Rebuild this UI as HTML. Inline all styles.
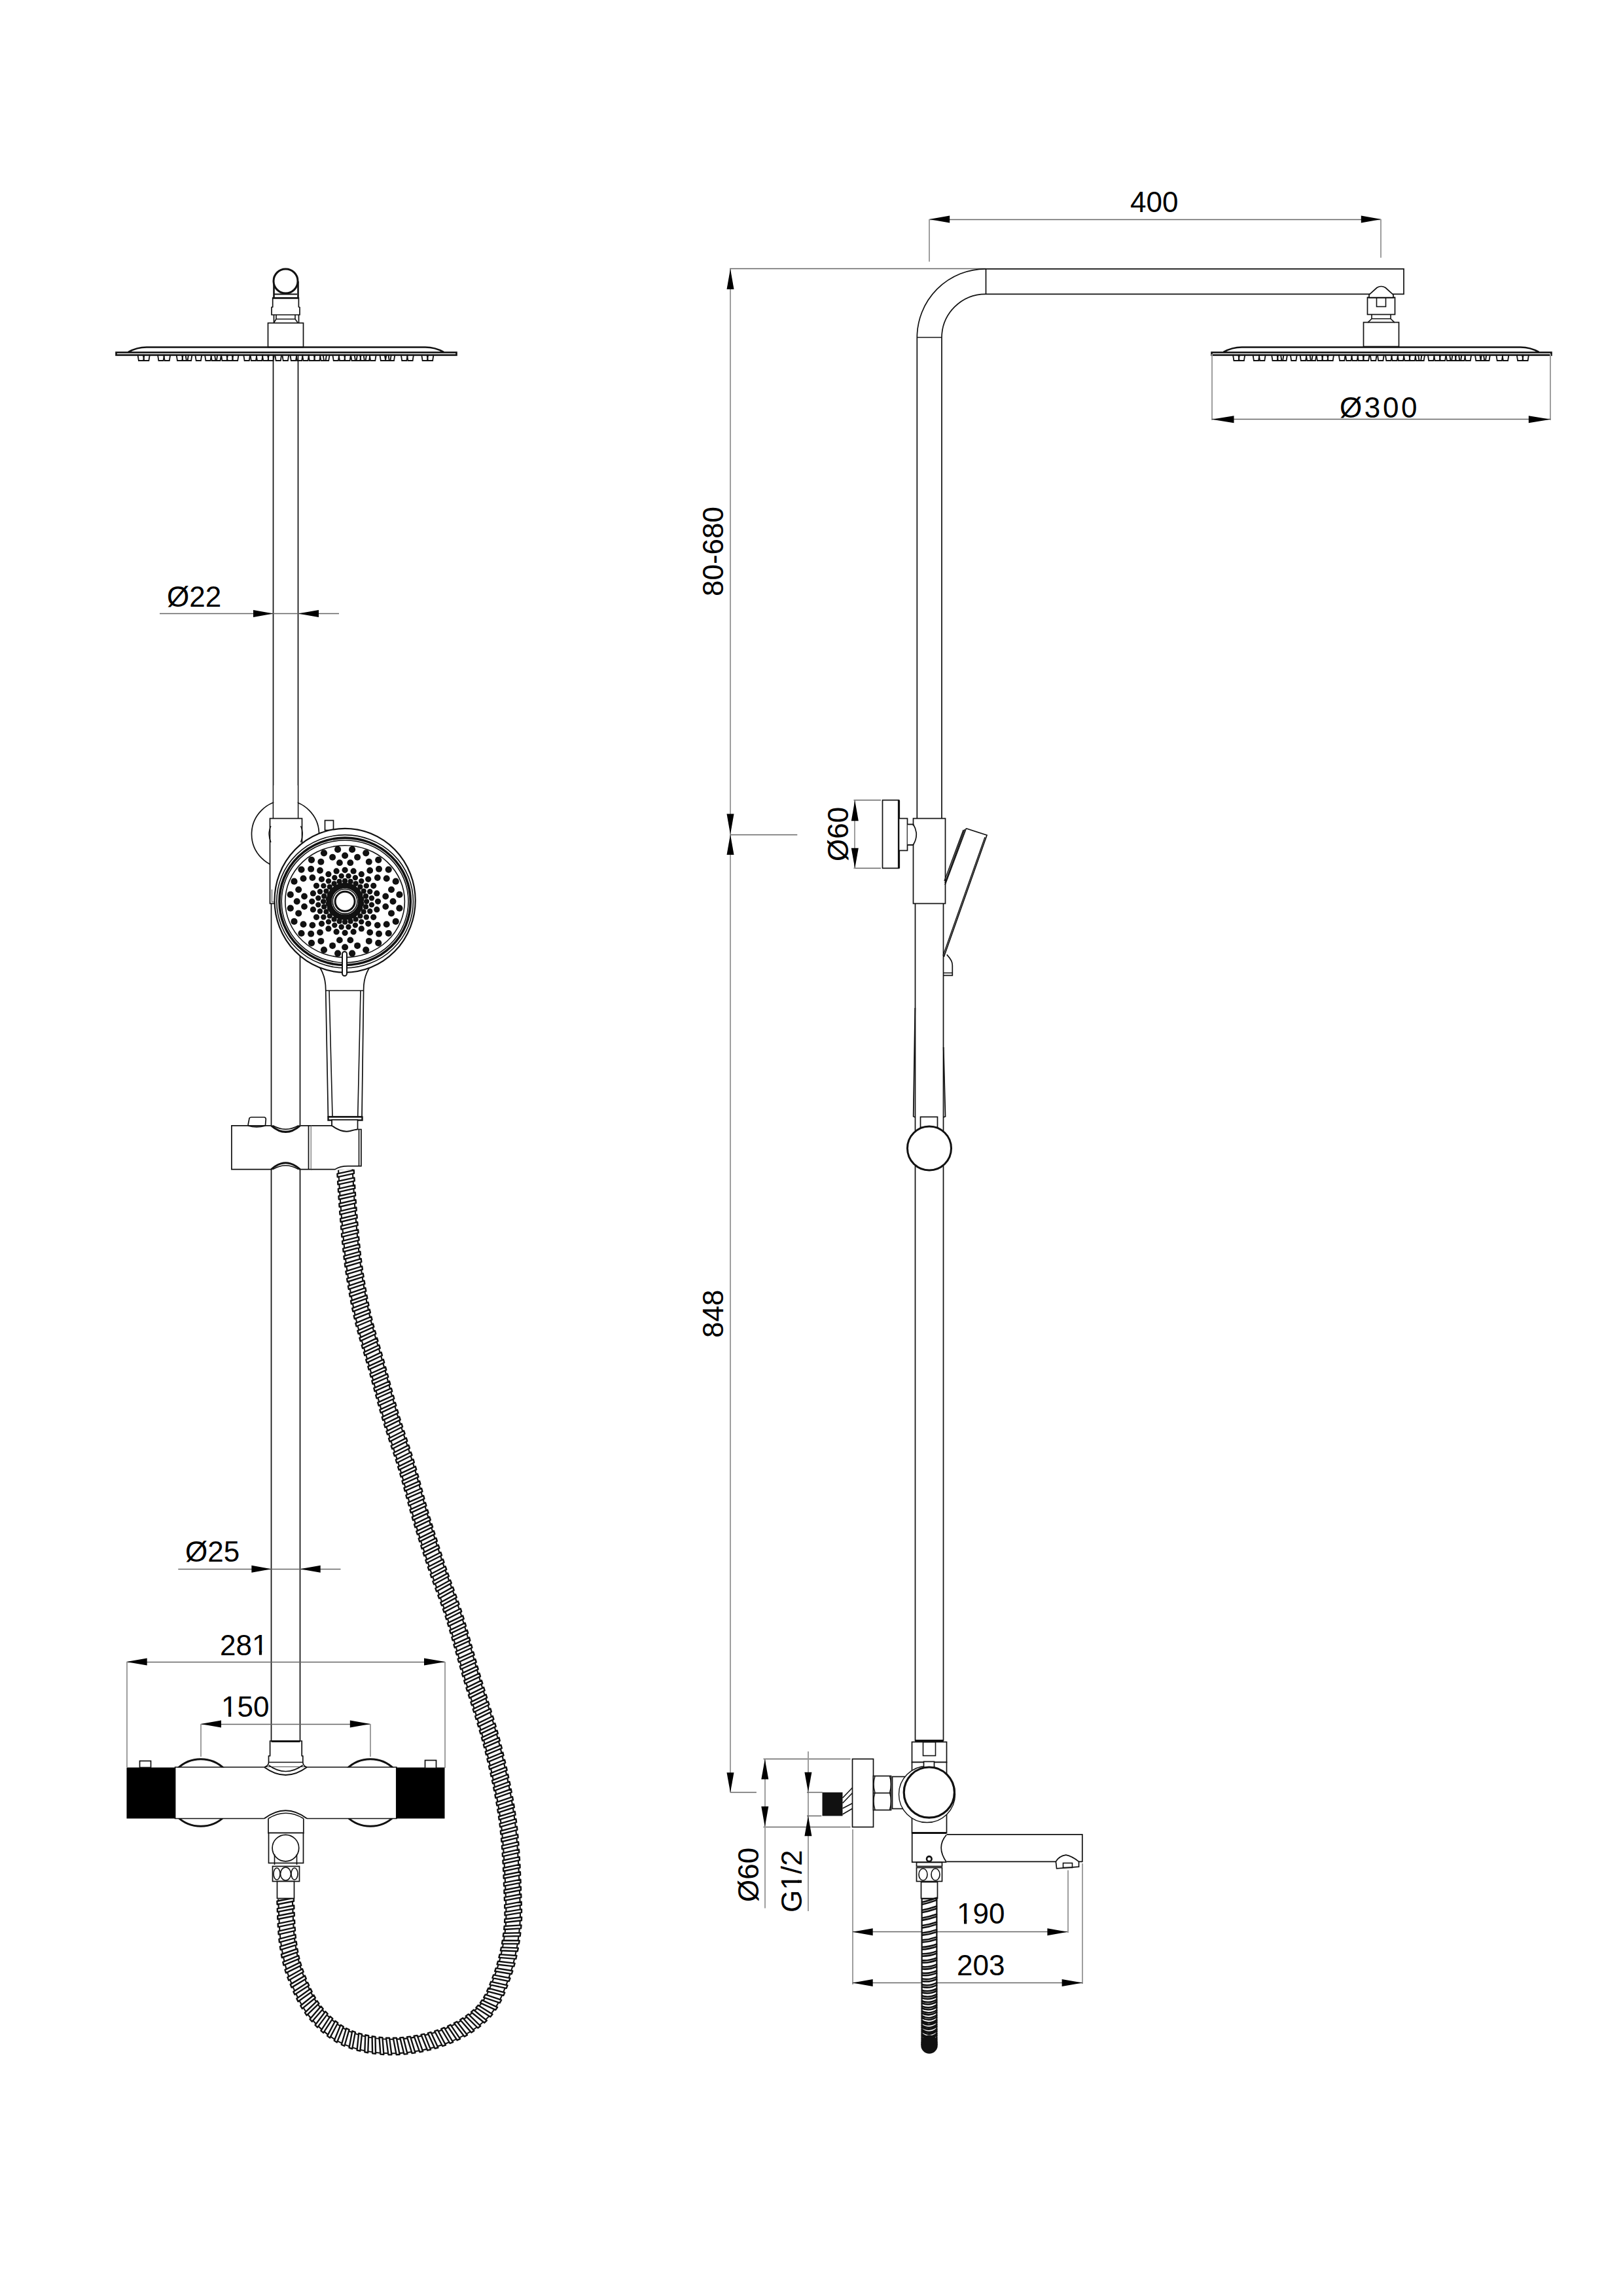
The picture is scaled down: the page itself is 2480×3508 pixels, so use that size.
<!DOCTYPE html>
<html><head><meta charset="utf-8"><style>
html,body{margin:0;padding:0;background:#fff;width:2480px;height:3508px;overflow:hidden}
svg{display:block}
text{font-family:"Liberation Sans",sans-serif}
</style></head><body>
<svg width="2480" height="3508" viewBox="0 0 2480 3508">
<rect x="0" y="0" width="2480" height="3508" fill="#fff"/>
<line x1="417.5" y1="542" x2="417.5" y2="1251" stroke="#111" stroke-width="1.7" fill="none"/>
<line x1="455.5" y1="542" x2="455.5" y2="1251" stroke="#111" stroke-width="1.7" fill="none"/>
<rect x="409.5" y="493.5" width="54" height="37" stroke="#111" stroke-width="1.7" fill="#fff"/>
<rect x="177.5" y="538.5" width="520" height="4" stroke="#111" stroke-width="2.6" fill="#fff"/>
<path d="M 196 538 Q 209 530.5 224 530.5 L 650 530.5 Q 665 530.5 678 538" stroke="#111" stroke-width="2.6" fill="none"/>
<path d="M 210.5 542 L 211.9 551 L 219.1 551 L 220.5 542" stroke="#111" stroke-width="1.8" fill="none"/>
<path d="M 218.8 542 L 220.2 551 L 227.4 551 L 228.8 542" stroke="#111" stroke-width="1.8" fill="none"/>
<path d="M 241 542 L 242.4 551 L 249.6 551 L 251 542" stroke="#111" stroke-width="1.8" fill="none"/>
<path d="M 250.2 542 L 251.6 551 L 258.8 551 L 260.2 542" stroke="#111" stroke-width="1.8" fill="none"/>
<path d="M 269.6 542 L 271 551 L 278.2 551 L 279.6 542" stroke="#111" stroke-width="1.8" fill="none"/>
<path d="M 278 542 L 279.4 551 L 286.6 551 L 288 542" stroke="#111" stroke-width="1.8" fill="none"/>
<path d="M 283.5 542 L 284.9 551 L 292.1 551 L 293.5 542" stroke="#111" stroke-width="1.8" fill="none"/>
<path d="M 298.3 542 L 299.7 551 L 306.9 551 L 308.3 542" stroke="#111" stroke-width="1.8" fill="none"/>
<path d="M 313 542 L 314.4 551 L 321.6 551 L 323 542" stroke="#111" stroke-width="1.8" fill="none"/>
<path d="M 322.3 542 L 323.7 551 L 330.9 551 L 332.3 542" stroke="#111" stroke-width="1.8" fill="none"/>
<path d="M 328 542 L 329.4 551 L 336.6 551 L 338 542" stroke="#111" stroke-width="1.8" fill="none"/>
<path d="M 338 542 L 339.4 551 L 346.6 551 L 348 542" stroke="#111" stroke-width="1.8" fill="none"/>
<path d="M 346.3 542 L 347.7 551 L 354.9 551 L 356.3 542" stroke="#111" stroke-width="1.8" fill="none"/>
<path d="M 354.6 542 L 356 551 L 363.2 551 L 364.6 542" stroke="#111" stroke-width="1.8" fill="none"/>
<path d="M 372.2 542 L 373.6 551 L 380.8 551 L 382.2 542" stroke="#111" stroke-width="1.8" fill="none"/>
<path d="M 382.4 542 L 383.8 551 L 391 551 L 392.4 542" stroke="#111" stroke-width="1.8" fill="none"/>
<path d="M 391.6 542 L 393 551 L 400.2 551 L 401.6 542" stroke="#111" stroke-width="1.8" fill="none"/>
<path d="M 400.8 542 L 402.2 551 L 409.4 551 L 410.8 542" stroke="#111" stroke-width="1.8" fill="none"/>
<path d="M 409 542 L 410.4 551 L 417.6 551 L 419 542" stroke="#111" stroke-width="1.8" fill="none"/>
<path d="M 420.2 542 L 421.6 551 L 428.8 551 L 430.2 542" stroke="#111" stroke-width="1.8" fill="none"/>
<path d="M 431.3 542 L 432.7 551 L 439.9 551 L 441.3 542" stroke="#111" stroke-width="1.8" fill="none"/>
<path d="M 443.4 542 L 444.8 551 L 452 551 L 453.4 542" stroke="#111" stroke-width="1.8" fill="none"/>
<path d="M 452.6 542 L 454 551 L 461.2 551 L 462.6 542" stroke="#111" stroke-width="1.8" fill="none"/>
<path d="M 462 542 L 463.4 551 L 470.6 551 L 472 542" stroke="#111" stroke-width="1.8" fill="none"/>
<path d="M 471.4 542 L 472.8 551 L 480 551 L 481.4 542" stroke="#111" stroke-width="1.8" fill="none"/>
<path d="M 479.7 542 L 481.1 551 L 488.3 551 L 489.7 542" stroke="#111" stroke-width="1.8" fill="none"/>
<path d="M 489 542 L 490.4 551 L 497.6 551 L 499 542" stroke="#111" stroke-width="1.8" fill="none"/>
<path d="M 493.6 542 L 495 551 L 502.2 551 L 503.6 542" stroke="#111" stroke-width="1.8" fill="none"/>
<path d="M 508.3 542 L 509.7 551 L 516.9 551 L 518.3 542" stroke="#111" stroke-width="1.8" fill="none"/>
<path d="M 517.6 542 L 519 551 L 526.2 551 L 527.6 542" stroke="#111" stroke-width="1.8" fill="none"/>
<path d="M 526 542 L 527.4 551 L 534.6 551 L 536 542" stroke="#111" stroke-width="1.8" fill="none"/>
<path d="M 536 542 L 537.4 551 L 544.6 551 L 546 542" stroke="#111" stroke-width="1.8" fill="none"/>
<path d="M 541.6 542 L 543 551 L 550.2 551 L 551.6 542" stroke="#111" stroke-width="1.8" fill="none"/>
<path d="M 550 542 L 551.4 551 L 558.6 551 L 560 542" stroke="#111" stroke-width="1.8" fill="none"/>
<path d="M 555.5 542 L 556.9 551 L 564.1 551 L 565.5 542" stroke="#111" stroke-width="1.8" fill="none"/>
<path d="M 564.7 542 L 566.1 551 L 573.3 551 L 574.7 542" stroke="#111" stroke-width="1.8" fill="none"/>
<path d="M 580.4 542 L 581.8 551 L 589 551 L 590.4 542" stroke="#111" stroke-width="1.8" fill="none"/>
<path d="M 587.8 542 L 589.2 551 L 596.4 551 L 597.8 542" stroke="#111" stroke-width="1.8" fill="none"/>
<path d="M 593.4 542 L 594.8 551 L 602 551 L 603.4 542" stroke="#111" stroke-width="1.8" fill="none"/>
<path d="M 612.8 542 L 614.2 551 L 621.4 551 L 622.8 542" stroke="#111" stroke-width="1.8" fill="none"/>
<path d="M 622 542 L 623.4 551 L 630.6 551 L 632 542" stroke="#111" stroke-width="1.8" fill="none"/>
<path d="M 644.2 542 L 645.6 551 L 652.8 551 L 654.2 542" stroke="#111" stroke-width="1.8" fill="none"/>
<path d="M 652.5 542 L 653.9 551 L 661.1 551 L 662.5 542" stroke="#111" stroke-width="1.8" fill="none"/>
<path d="M 416.7 455 L 416.7 469 L 415 469.5 L 415 481 L 458 481 L 458 469.5 L 456.4 469 L 456.4 455 Z" stroke="#111" stroke-width="1.7" fill="#fff"/>
<line x1="418.5" y1="481" x2="418.5" y2="493.5" stroke="#111" stroke-width="1.7" fill="none"/>
<line x1="456.5" y1="481" x2="456.5" y2="493.5" stroke="#111" stroke-width="1.7" fill="none"/>
<path d="M 422 481 L 422 487.5 L 418.5 493 M 451 481 L 451 487.5 L 455 493 M 422 487.5 L 451 487.5" stroke="#111" stroke-width="1.6" fill="none"/>
<line x1="418.5" y1="430" x2="418.5" y2="455" stroke="#111" stroke-width="2.6" fill="none"/>
<line x1="455.5" y1="430" x2="455.5" y2="455" stroke="#111" stroke-width="2.6" fill="none"/>
<line x1="419" y1="449.5" x2="454" y2="449.5" stroke="#111" stroke-width="1.8" fill="none"/>
<line x1="416.7" y1="455.5" x2="456.4" y2="455.5" stroke="#111" stroke-width="2.6" fill="none"/>
<circle cx="436.5" cy="429.5" r="18.5" stroke="#111" stroke-width="3" fill="#fff"/>
<line x1="244" y1="937.5" x2="518" y2="937.5" stroke="#666" stroke-width="1.5" fill="none"/>
<polygon points="417.5,937.5 387,943 387,932" fill="#000"/>
<polygon points="455.5,937.5 487,932 487,943" fill="#000"/>
<g><text x="255" y="926.5" font-size="44" font-family="Liberation Sans, sans-serif" letter-spacing="0" fill="#000">&#216;22</text></g>
<circle cx="436" cy="1274.5" r="51.5" stroke="#111" stroke-width="1.7" fill="none"/>
<rect x="418.4" y="1200" width="36.2" height="51" fill="#fff"/>
<line x1="414.5" y1="1380" x2="414.5" y2="2660" stroke="#111" stroke-width="1.7" fill="none"/>
<line x1="458.5" y1="1380" x2="458.5" y2="2660" stroke="#111" stroke-width="1.7" fill="none"/>
<rect x="412.5" y="1250.5" width="49" height="130" stroke="#111" stroke-width="1.7" fill="#fff"/>
<path d="M 414 1262 Q 408 1274 414 1287 M 459.5 1262 Q 465 1274 459.5 1287" stroke="#111" stroke-width="1.4" fill="none"/>
<path d="M 415.5 1359 L 415.5 1378 L 420 1378" stroke="#555" stroke-width="1.2" fill="none"/>
<rect x="496.5" y="1253.5" width="13" height="15" stroke="#111" stroke-width="1.7" fill="#fff"/>
<path d="M 478 1466 C 492 1478 497.7 1495 497.7 1512 L 501.4 1706 L 553 1706 L 555.6 1512 C 555.6 1495 561 1478 576 1466" stroke="#111" stroke-width="1.7" fill="#fff"/>
<path d="M 503 1513 L 508 1706 M 551 1513 L 546.7 1706" stroke="#111" stroke-width="1.6" fill="none"/>
<line x1="497.7" y1="1513.5" x2="555.6" y2="1513.5" stroke="#111" stroke-width="1.7" fill="none"/>
<rect x="501.5" y="1706.5" width="52" height="5" stroke="#111" stroke-width="2.4" fill="#fff"/>
<rect x="507.5" y="1711.5" width="38" height="9" stroke="#111" stroke-width="1.7" fill="#fff"/>
<ellipse cx="527.1" cy="1375.8" rx="107.6" ry="110" stroke="#111" stroke-width="2.2" fill="#fff"/>
<ellipse cx="527.1" cy="1377.3" rx="104.3" ry="101.7" stroke="#111" stroke-width="1.6" fill="none"/>
<ellipse cx="527.1" cy="1377.3" rx="100.2" ry="97.2" stroke="#111" stroke-width="3.6" fill="none"/>
<ellipse cx="527.1" cy="1377.3" rx="96.9" ry="93.5" stroke="#111" stroke-width="1.6" fill="none"/>
<ellipse cx="527.1" cy="1377.3" rx="91.3" ry="85.5" stroke="#111" stroke-width="1.6" fill="none"/>
<circle cx="527.1" cy="1377.3" r="24.3" stroke="#111" stroke-width="8.5" fill="none"/>
<circle cx="527.1" cy="1353" r="4.2" fill="#111"/>
<circle cx="534.3" cy="1354" r="4.2" fill="#111"/>
<circle cx="540.9" cy="1356.9" r="4.2" fill="#111"/>
<circle cx="546.4" cy="1361.4" r="4.2" fill="#111"/>
<circle cx="550.3" cy="1367.2" r="4.2" fill="#111"/>
<circle cx="552.3" cy="1373.8" r="4.2" fill="#111"/>
<circle cx="552.3" cy="1380.8" r="4.2" fill="#111"/>
<circle cx="550.3" cy="1387.4" r="4.2" fill="#111"/>
<circle cx="546.4" cy="1393.2" r="4.2" fill="#111"/>
<circle cx="540.9" cy="1397.7" r="4.2" fill="#111"/>
<circle cx="534.3" cy="1400.6" r="4.2" fill="#111"/>
<circle cx="527.1" cy="1401.6" r="4.2" fill="#111"/>
<circle cx="519.9" cy="1400.6" r="4.2" fill="#111"/>
<circle cx="513.3" cy="1397.7" r="4.2" fill="#111"/>
<circle cx="507.8" cy="1393.2" r="4.2" fill="#111"/>
<circle cx="503.9" cy="1387.4" r="4.2" fill="#111"/>
<circle cx="501.9" cy="1380.8" r="4.2" fill="#111"/>
<circle cx="501.9" cy="1373.8" r="4.2" fill="#111"/>
<circle cx="503.9" cy="1367.2" r="4.2" fill="#111"/>
<circle cx="507.8" cy="1361.4" r="4.2" fill="#111"/>
<circle cx="513.3" cy="1356.9" r="4.2" fill="#111"/>
<circle cx="519.9" cy="1354" r="4.2" fill="#111"/>
<circle cx="527.1" cy="1377.3" r="18.8" stroke="#111" stroke-width="1.6" fill="#fff"/>
<circle cx="527.1" cy="1377.3" r="15" stroke="#111" stroke-width="3" fill="none"/>
<circle cx="527.1" cy="1345.9" r="4.1" fill="#111"/>
<circle cx="535.6" cy="1346.9" r="4.1" fill="#111"/>
<circle cx="543.6" cy="1350.1" r="4.1" fill="#111"/>
<circle cx="550.4" cy="1355.1" r="4.1" fill="#111"/>
<circle cx="555.7" cy="1361.6" r="4.1" fill="#111"/>
<circle cx="559" cy="1369.2" r="4.1" fill="#111"/>
<circle cx="560.1" cy="1377.3" r="4.1" fill="#111"/>
<circle cx="559" cy="1385.4" r="4.1" fill="#111"/>
<circle cx="555.7" cy="1393" r="4.1" fill="#111"/>
<circle cx="550.4" cy="1399.5" r="4.1" fill="#111"/>
<circle cx="543.6" cy="1404.5" r="4.1" fill="#111"/>
<circle cx="535.6" cy="1407.7" r="4.1" fill="#111"/>
<circle cx="527.1" cy="1408.7" r="4.1" fill="#111"/>
<circle cx="518.6" cy="1407.7" r="4.1" fill="#111"/>
<circle cx="510.6" cy="1404.5" r="4.1" fill="#111"/>
<circle cx="503.8" cy="1399.5" r="4.1" fill="#111"/>
<circle cx="498.5" cy="1393" r="4.1" fill="#111"/>
<circle cx="495.2" cy="1385.4" r="4.1" fill="#111"/>
<circle cx="494.1" cy="1377.3" r="4.1" fill="#111"/>
<circle cx="495.2" cy="1369.2" r="4.1" fill="#111"/>
<circle cx="498.5" cy="1361.6" r="4.1" fill="#111"/>
<circle cx="503.8" cy="1355.1" r="4.1" fill="#111"/>
<circle cx="510.6" cy="1350.1" r="4.1" fill="#111"/>
<circle cx="518.6" cy="1346.9" r="4.1" fill="#111"/>
<circle cx="532.5" cy="1338.4" r="4.2" fill="#111"/>
<circle cx="542.9" cy="1341" r="4.2" fill="#111"/>
<circle cx="552.2" cy="1346.2" r="4.2" fill="#111"/>
<circle cx="559.8" cy="1353.4" r="4.2" fill="#111"/>
<circle cx="565.2" cy="1362.3" r="4.2" fill="#111"/>
<circle cx="567.9" cy="1372.2" r="4.2" fill="#111"/>
<circle cx="567.9" cy="1382.4" r="4.2" fill="#111"/>
<circle cx="565.2" cy="1392.3" r="4.2" fill="#111"/>
<circle cx="559.8" cy="1401.2" r="4.2" fill="#111"/>
<circle cx="552.2" cy="1408.4" r="4.2" fill="#111"/>
<circle cx="542.9" cy="1413.6" r="4.2" fill="#111"/>
<circle cx="532.5" cy="1416.2" r="4.2" fill="#111"/>
<circle cx="521.7" cy="1416.2" r="4.2" fill="#111"/>
<circle cx="511.3" cy="1413.6" r="4.2" fill="#111"/>
<circle cx="502" cy="1408.4" r="4.2" fill="#111"/>
<circle cx="494.4" cy="1401.2" r="4.2" fill="#111"/>
<circle cx="489" cy="1392.3" r="4.2" fill="#111"/>
<circle cx="486.3" cy="1382.4" r="4.2" fill="#111"/>
<circle cx="486.3" cy="1372.2" r="4.2" fill="#111"/>
<circle cx="489" cy="1362.3" r="4.2" fill="#111"/>
<circle cx="494.4" cy="1353.4" r="4.2" fill="#111"/>
<circle cx="502" cy="1346.2" r="4.2" fill="#111"/>
<circle cx="511.3" cy="1341" r="4.2" fill="#111"/>
<circle cx="521.7" cy="1338.4" r="4.2" fill="#111"/>
<circle cx="527.1" cy="1329.3" r="4.6" fill="#111"/>
<circle cx="540.1" cy="1330.9" r="4.6" fill="#111"/>
<circle cx="552.3" cy="1335.7" r="4.6" fill="#111"/>
<circle cx="562.7" cy="1343.3" r="4.6" fill="#111"/>
<circle cx="570.7" cy="1353.3" r="4.6" fill="#111"/>
<circle cx="575.8" cy="1364.9" r="4.6" fill="#111"/>
<circle cx="577.5" cy="1377.3" r="4.6" fill="#111"/>
<circle cx="575.8" cy="1389.7" r="4.6" fill="#111"/>
<circle cx="570.7" cy="1401.3" r="4.6" fill="#111"/>
<circle cx="562.7" cy="1411.3" r="4.6" fill="#111"/>
<circle cx="552.3" cy="1418.9" r="4.6" fill="#111"/>
<circle cx="540.1" cy="1423.7" r="4.6" fill="#111"/>
<circle cx="527.1" cy="1425.3" r="4.6" fill="#111"/>
<circle cx="514.1" cy="1423.7" r="4.6" fill="#111"/>
<circle cx="501.9" cy="1418.9" r="4.6" fill="#111"/>
<circle cx="491.5" cy="1411.3" r="4.6" fill="#111"/>
<circle cx="483.5" cy="1401.3" r="4.6" fill="#111"/>
<circle cx="478.4" cy="1389.7" r="4.6" fill="#111"/>
<circle cx="476.7" cy="1377.3" r="4.6" fill="#111"/>
<circle cx="478.4" cy="1364.9" r="4.6" fill="#111"/>
<circle cx="483.5" cy="1353.3" r="4.6" fill="#111"/>
<circle cx="491.5" cy="1343.3" r="4.6" fill="#111"/>
<circle cx="501.9" cy="1335.7" r="4.6" fill="#111"/>
<circle cx="514.1" cy="1330.9" r="4.6" fill="#111"/>
<circle cx="535.3" cy="1318.2" r="4.9" fill="#111"/>
<circle cx="565.2" cy="1330" r="4.9" fill="#111"/>
<circle cx="576.8" cy="1341" r="4.9" fill="#111"/>
<circle cx="589.2" cy="1369.5" r="4.9" fill="#111"/>
<circle cx="589.2" cy="1385.1" r="4.9" fill="#111"/>
<circle cx="576.8" cy="1413.6" r="4.9" fill="#111"/>
<circle cx="565.2" cy="1424.6" r="4.9" fill="#111"/>
<circle cx="535.3" cy="1436.4" r="4.9" fill="#111"/>
<circle cx="518.9" cy="1436.4" r="4.9" fill="#111"/>
<circle cx="489" cy="1424.6" r="4.9" fill="#111"/>
<circle cx="477.4" cy="1413.6" r="4.9" fill="#111"/>
<circle cx="465" cy="1385.1" r="4.9" fill="#111"/>
<circle cx="465" cy="1369.5" r="4.9" fill="#111"/>
<circle cx="477.4" cy="1341" r="4.9" fill="#111"/>
<circle cx="489" cy="1330" r="4.9" fill="#111"/>
<circle cx="518.9" cy="1318.2" r="4.9" fill="#111"/>
<circle cx="527.1" cy="1307.3" r="5" fill="#111"/>
<circle cx="546.1" cy="1309.7" r="5" fill="#111"/>
<circle cx="563.8" cy="1316.7" r="5" fill="#111"/>
<circle cx="579" cy="1327.8" r="5" fill="#111"/>
<circle cx="590.7" cy="1342.3" r="5" fill="#111"/>
<circle cx="598" cy="1359.2" r="5" fill="#111"/>
<circle cx="600.5" cy="1377.3" r="5" fill="#111"/>
<circle cx="598" cy="1395.4" r="5" fill="#111"/>
<circle cx="590.7" cy="1412.3" r="5" fill="#111"/>
<circle cx="579" cy="1426.8" r="5" fill="#111"/>
<circle cx="563.8" cy="1437.9" r="5" fill="#111"/>
<circle cx="546.1" cy="1444.9" r="5" fill="#111"/>
<circle cx="527.1" cy="1447.3" r="5" fill="#111"/>
<circle cx="508.1" cy="1444.9" r="5" fill="#111"/>
<circle cx="490.4" cy="1437.9" r="5" fill="#111"/>
<circle cx="475.2" cy="1426.8" r="5" fill="#111"/>
<circle cx="463.5" cy="1412.3" r="5" fill="#111"/>
<circle cx="456.2" cy="1395.4" r="5" fill="#111"/>
<circle cx="453.7" cy="1377.3" r="5" fill="#111"/>
<circle cx="456.2" cy="1359.2" r="5" fill="#111"/>
<circle cx="463.5" cy="1342.3" r="5" fill="#111"/>
<circle cx="475.2" cy="1327.8" r="5" fill="#111"/>
<circle cx="490.4" cy="1316.7" r="5" fill="#111"/>
<circle cx="508.1" cy="1309.7" r="5" fill="#111"/>
<circle cx="538.1" cy="1297.9" r="5.1" fill="#111"/>
<circle cx="559.2" cy="1303.3" r="5.1" fill="#111"/>
<circle cx="578.2" cy="1313.8" r="5.1" fill="#111"/>
<circle cx="593.7" cy="1328.6" r="5.1" fill="#111"/>
<circle cx="604.7" cy="1346.7" r="5.1" fill="#111"/>
<circle cx="610.4" cy="1366.9" r="5.1" fill="#111"/>
<circle cx="610.4" cy="1387.7" r="5.1" fill="#111"/>
<circle cx="604.7" cy="1407.9" r="5.1" fill="#111"/>
<circle cx="593.7" cy="1426" r="5.1" fill="#111"/>
<circle cx="578.2" cy="1440.8" r="5.1" fill="#111"/>
<circle cx="559.2" cy="1451.3" r="5.1" fill="#111"/>
<circle cx="538.1" cy="1456.7" r="5.1" fill="#111"/>
<circle cx="516.1" cy="1456.7" r="5.1" fill="#111"/>
<circle cx="495" cy="1451.3" r="5.1" fill="#111"/>
<circle cx="476" cy="1440.8" r="5.1" fill="#111"/>
<circle cx="460.5" cy="1426" r="5.1" fill="#111"/>
<circle cx="449.5" cy="1407.9" r="5.1" fill="#111"/>
<circle cx="443.8" cy="1387.7" r="5.1" fill="#111"/>
<circle cx="443.8" cy="1366.9" r="5.1" fill="#111"/>
<circle cx="449.5" cy="1346.7" r="5.1" fill="#111"/>
<circle cx="460.5" cy="1328.6" r="5.1" fill="#111"/>
<circle cx="476" cy="1313.8" r="5.1" fill="#111"/>
<circle cx="495" cy="1303.3" r="5.1" fill="#111"/>
<circle cx="516.1" cy="1297.9" r="5.1" fill="#111"/>
<rect x="523" y="1454" width="7" height="37" rx="3.5" stroke="#111" stroke-width="2" fill="#fff"/>
<rect x="353.5" y="1719.5" width="122" height="67" fill="#fff" stroke="none"/>
<path d="M 414.5 1719.8 L 353.9 1719.8 L 353.9 1786.6 L 414.5 1786.6 M 458.5 1786.6 L 475.6 1786.6 L 475.6 1719.8 L 458.5 1719.8" stroke="#111" stroke-width="1.7" fill="none"/>
<line x1="471.5" y1="1719.8" x2="471.5" y2="1786.6" stroke="#111" stroke-width="1.7" fill="none"/>
<path d="M 414.5 1719.8 Q 436.5 1739 458.5 1719.8" stroke="#111" stroke-width="3" fill="none"/>
<path d="M 417 1719.8 Q 436.5 1731 456 1719.8" stroke="#111" stroke-width="1.6" fill="none"/>
<path d="M 414.5 1786.6 Q 436.5 1767 458.5 1786.6" stroke="#111" stroke-width="3" fill="none"/>
<path d="M 417 1786.6 Q 436.5 1775 456 1786.6" stroke="#111" stroke-width="1.6" fill="none"/>
<rect x="475.5" y="1719.5" width="76" height="67" fill="#fff" stroke="none"/>
<path d="M 475.6 1719.8 L 507 1719.8 M 546.5 1725.5 L 551.9 1725.5 L 551.9 1781.7 L 548.8 1781.7 M 475.6 1786.6 L 512 1786.6 Q 520 1781 535 1781.7 L 548.8 1781.7" stroke="#111" stroke-width="1.7" fill="none"/>
<line x1="548.5" y1="1725.5" x2="548.5" y2="1781.7" stroke="#111" stroke-width="1.6"/>
<rect x="507.5" y="1710.5" width="39" height="12" fill="#fff" stroke="none"/>
<path d="M 507 1721 L 507 1710.8 L 546.5 1710.8 L 546.5 1725.5" stroke="#111" stroke-width="1.7" fill="none"/>
<path d="M 507 1719.8 Q 522 1731 535 1728 Q 542 1726 546.5 1725.5" stroke="#111" stroke-width="2" fill="none"/>
<path d="M 379 1719 L 381 1708.5 Q 382 1707 384 1707 L 404 1707 Q 406.3 1707.5 406.3 1710 L 405.5 1719" stroke="#111" stroke-width="1.7" fill="#fff"/>
<path d="M 379 1719.8 Q 392 1724 405.5 1719.8" stroke="#111" stroke-width="1.8" fill="none"/>
<path d="M 527.8 1787 C 528.6 1798.7 530.4 1832.5 532.5 1857 C 534.6 1881.5 536.6 1908.3 540.2 1934 C 543.8 1959.7 548.1 1985.3 554 2011 C 559.9 2036.7 568.4 2062.3 575.6 2088 C 582.8 2113.7 589.3 2139.3 597 2165 C 604.7 2190.7 614.1 2216.3 621.8 2242 C 629.5 2267.7 635.7 2293.3 643.4 2319 C 651.1 2344.7 659.5 2370.8 668 2396 C 676.5 2421.2 685.5 2442.5 694.2 2470 C 703 2497.5 710.6 2527.3 720.5 2561 C 730.4 2594.7 744.5 2635 753.8 2672 C 763 2709 771.1 2746 776 2783 C 780.9 2820 782.4 2865.5 783.4 2894 C 784.4 2922.5 784.9 2933.3 782.3 2954 C 779.6 2974.7 774.9 2997.9 767.5 3018 C 760.1 3038.1 752.8 3059.1 738 3074.7 C 723.2 3090.3 701.4 3103.1 678.8 3111.7 C 656.2 3120.3 627 3126.1 602.4 3126.5 C 577.8 3126.9 551.1 3122.6 531 3114 C 510.9 3105.4 494.8 3090.7 481.6 3074.7 C 468.4 3058.7 459 3036.1 452 3018 C 445 2999.9 442.4 2985.5 439.7 2966 C 437 2946.5 436.6 2911.8 436 2901" stroke="#111" stroke-width="23.6" fill="none"/>
<path d="M 527.8 1787 C 528.6 1798.7 530.4 1832.5 532.5 1857 C 534.6 1881.5 536.6 1908.3 540.2 1934 C 543.8 1959.7 548.1 1985.3 554 2011 C 559.9 2036.7 568.4 2062.3 575.6 2088 C 582.8 2113.7 589.3 2139.3 597 2165 C 604.7 2190.7 614.1 2216.3 621.8 2242 C 629.5 2267.7 635.7 2293.3 643.4 2319 C 651.1 2344.7 659.5 2370.8 668 2396 C 676.5 2421.2 685.5 2442.5 694.2 2470 C 703 2497.5 710.6 2527.3 720.5 2561 C 730.4 2594.7 744.5 2635 753.8 2672 C 763 2709 771.1 2746 776 2783 C 780.9 2820 782.4 2865.5 783.4 2894 C 784.4 2922.5 784.9 2933.3 782.3 2954 C 779.6 2974.7 774.9 2997.9 767.5 3018 C 760.1 3038.1 752.8 3059.1 738 3074.7 C 723.2 3090.3 701.4 3103.1 678.8 3111.7 C 656.2 3120.3 627 3126.1 602.4 3126.5 C 577.8 3126.9 551.1 3122.6 531 3114 C 510.9 3105.4 494.8 3090.7 481.6 3074.7 C 468.4 3058.7 459 3036.1 452 3018 C 445 2999.9 442.4 2985.5 439.7 2966 C 437 2946.5 436.6 2911.8 436 2901" stroke="#fff" stroke-width="19.4" fill="none"/>
<path d="M 515.4 1793.4 L 515.7 1798.4 L 541 1792.8 L 540.7 1787.8 Z M 516.1 1804.9 L 516.4 1809.9 L 541.7 1804.4 L 541.4 1799.4 Z M 516.8 1816.3 L 517.1 1821.3 L 542.4 1815.7 L 542.1 1810.7 Z M 517.5 1827.5 L 517.8 1832.5 L 543.1 1826.8 L 542.8 1821.8 Z M 518.3 1839 L 518.6 1844 L 543.9 1838.2 L 543.5 1833.2 Z M 519.1 1850.7 L 519.5 1855.7 L 544.7 1849.7 L 544.4 1844.7 Z M 520.1 1862 L 520.5 1867 L 545.7 1860.9 L 545.3 1855.9 Z M 521 1873.3 L 521.4 1878.3 L 546.6 1872.1 L 546.2 1867.2 Z M 522 1884.8 L 522.4 1889.8 L 547.6 1883.6 L 547.2 1878.6 Z M 523 1896.2 L 523.5 1901.1 L 548.6 1894.8 L 548.1 1889.8 Z M 524.2 1907.6 L 524.7 1912.6 L 549.7 1906 L 549.2 1901 Z M 525.4 1919.1 L 526 1924 L 550.9 1917.1 L 550.4 1912.2 Z M 526.8 1930.5 L 527.5 1935.5 L 552.3 1928.2 L 551.7 1923.2 Z M 528.4 1942.3 L 529.2 1947.2 L 553.9 1939.6 L 553.2 1934.6 Z M 530.1 1953.6 L 530.9 1958.5 L 555.6 1950.6 L 554.8 1945.7 Z M 531.9 1964.9 L 532.8 1969.8 L 557.4 1961.7 L 556.5 1956.7 Z M 533.9 1976.2 L 534.8 1981.1 L 559.3 1972.7 L 558.4 1967.7 Z M 536 1987.5 L 536.9 1992.4 L 561.3 1983.7 L 560.4 1978.8 Z M 538.2 1998.9 L 539.3 2003.8 L 563.5 1994.6 L 562.5 1989.7 Z M 540.7 2010.2 L 541.8 2015.1 L 565.9 2005.6 L 564.8 2000.7 Z M 543.4 2021.7 L 544.6 2026.5 L 568.5 2016.5 L 567.3 2011.6 Z M 546.4 2033.1 L 547.7 2037.9 L 571.3 2027.4 L 570 2022.6 Z M 549.4 2044.1 L 550.8 2048.9 L 574.3 2038 L 572.9 2033.2 Z M 552.7 2055.3 L 554.1 2060.1 L 577.5 2049.1 L 576.1 2044.3 Z M 555.9 2066.1 L 557.3 2070.9 L 580.7 2059.8 L 579.3 2055 Z M 559.2 2077.3 L 560.6 2082.1 L 584 2071 L 582.6 2066.2 Z M 562.3 2087.9 L 563.6 2092.7 L 587.2 2081.9 L 585.8 2077.1 Z M 565.4 2099 L 566.7 2103.8 L 590.3 2093.2 L 589 2088.4 Z M 568.3 2109.7 L 569.6 2114.6 L 593.3 2104 L 592 2099.2 Z M 571.3 2120.9 L 572.6 2125.7 L 596.3 2115.2 L 595 2110.3 Z M 574.2 2131.7 L 575.6 2136.5 L 599.2 2125.9 L 597.9 2121.1 Z M 577.3 2142.9 L 578.7 2147.7 L 602.3 2137 L 600.9 2132.2 Z M 580.4 2153.8 L 581.8 2158.6 L 605.3 2147.7 L 603.9 2142.9 Z M 583.7 2165.1 L 585.1 2169.9 L 608.5 2158.8 L 607.1 2154 Z M 587 2176 L 588.5 2180.8 L 611.7 2169.4 L 610.2 2164.6 Z M 590.5 2186.9 L 592 2191.7 L 615.1 2180 L 613.6 2175.3 Z M 594 2197.8 L 595.6 2202.6 L 618.6 2190.7 L 617.1 2186 Z M 597.7 2209 L 599.3 2213.7 L 622.3 2201.9 L 620.8 2197.1 Z M 601.3 2219.7 L 602.9 2224.5 L 625.9 2212.7 L 624.4 2207.9 Z M 604.8 2230.4 L 606.3 2235.2 L 629.5 2223.5 L 627.9 2218.8 Z M 608.1 2241.1 L 609.6 2245.8 L 632.9 2234.5 L 631.4 2229.7 Z M 611.3 2251.7 L 612.7 2256.5 L 636.2 2245.4 L 634.8 2240.6 Z M 614.5 2262.7 L 615.8 2267.5 L 639.4 2256.7 L 638 2251.9 Z M 617.4 2273.4 L 618.7 2278.2 L 642.4 2267.6 L 641.1 2262.8 Z M 620.4 2284.5 L 621.7 2289.3 L 645.4 2278.8 L 644.1 2274 Z M 623.5 2295.7 L 624.8 2300.5 L 648.4 2289.9 L 647.1 2285.1 Z M 626.5 2306.6 L 627.8 2311.4 L 651.4 2300.6 L 650 2295.8 Z M 629.7 2317.9 L 631.1 2322.7 L 654.6 2311.6 L 653.2 2306.8 Z M 633 2328.8 L 634.4 2333.6 L 657.8 2322.3 L 656.3 2317.5 Z M 636.3 2339.7 L 637.8 2344.5 L 661.1 2333.1 L 659.6 2328.3 Z M 639.7 2350.6 L 641.2 2355.4 L 664.4 2343.9 L 662.9 2339.1 Z M 643.2 2361.5 L 644.7 2366.3 L 667.9 2354.6 L 666.4 2349.9 Z M 646.7 2372.4 L 648.2 2377.1 L 671.4 2365.4 L 669.8 2360.6 Z M 650.4 2383.6 L 651.9 2388.3 L 675 2376.5 L 673.4 2371.7 Z M 653.9 2394.3 L 655.5 2399 L 678.5 2387.1 L 676.9 2382.4 Z M 657.7 2405.3 L 659.3 2410 L 682.2 2397.9 L 680.5 2393.2 Z M 661.4 2416 L 663.1 2420.7 L 685.9 2408.3 L 684.2 2403.6 Z M 665.4 2426.8 L 667.1 2431.5 L 689.8 2418.9 L 688 2414.2 Z M 669.3 2437.5 L 671.1 2442.2 L 693.7 2429.6 L 692 2424.9 Z M 673.3 2448.3 L 675 2453 L 697.7 2440.6 L 696 2435.9 Z M 676.9 2458.6 L 678.6 2463.4 L 701.5 2451.2 L 699.8 2446.5 Z M 680.6 2469.4 L 682.1 2474.2 L 705.2 2462.4 L 703.7 2457.7 Z M 683.9 2479.9 L 685.4 2484.7 L 708.7 2473.4 L 707.2 2468.6 Z M 687.2 2490.8 L 688.6 2495.6 L 712 2484.5 L 710.6 2479.7 Z M 690.3 2501.5 L 691.7 2506.3 L 715.2 2495.4 L 713.8 2490.6 Z M 693.4 2512.6 L 694.8 2517.4 L 718.3 2506.6 L 717 2501.8 Z M 696.5 2523.5 L 697.8 2528.3 L 721.4 2517.5 L 720.1 2512.7 Z M 699.6 2534.7 L 701 2539.5 L 724.6 2528.7 L 723.2 2523.9 Z M 702.8 2545.7 L 704.1 2550.5 L 727.7 2539.7 L 726.3 2534.9 Z M 705.9 2556.6 L 707.3 2561.4 L 730.7 2550.4 L 729.3 2545.6 Z M 709.2 2567.7 L 710.6 2572.5 L 734 2561.4 L 732.5 2556.6 Z M 712.5 2578.8 L 714 2583.6 L 737.3 2572.2 L 735.8 2567.4 Z M 715.9 2589.6 L 717.4 2594.4 L 740.6 2582.9 L 739.1 2578.1 Z M 719.4 2600.6 L 720.9 2605.4 L 744.1 2593.9 L 742.6 2589.1 Z M 722.7 2611.3 L 724.2 2616 L 747.4 2604.5 L 745.9 2599.8 Z M 726.1 2622 L 727.6 2626.8 L 750.8 2615.3 L 749.4 2610.6 Z M 729.6 2633.3 L 731.1 2638.1 L 754.4 2626.8 L 752.9 2622 Z M 732.8 2644.1 L 734.3 2648.9 L 757.7 2637.8 L 756.3 2633 Z M 735.9 2654.8 L 737.3 2659.6 L 760.8 2648.7 L 759.5 2643.9 Z M 738.8 2665.3 L 740.1 2670.2 L 763.8 2659.7 L 762.5 2654.8 Z M 741.7 2676.3 L 742.9 2681.1 L 766.8 2671.1 L 765.5 2666.2 Z M 744.4 2687.3 L 745.6 2692.1 L 769.5 2682.2 L 768.3 2677.4 Z M 747 2698.3 L 748.1 2703.2 L 772.2 2693.4 L 771 2688.6 Z M 749.5 2709.3 L 750.6 2714.2 L 774.7 2704.7 L 773.6 2699.8 Z M 751.9 2720.3 L 753 2725.1 L 777.2 2715.9 L 776.1 2711 Z M 754.2 2731.2 L 755.2 2736.1 L 779.5 2727.1 L 778.5 2722.2 Z M 756.4 2742.2 L 757.3 2747.1 L 781.7 2738.4 L 780.8 2733.5 Z M 758.5 2753.7 L 759.3 2758.6 L 783.9 2750.2 L 783 2745.3 Z M 760.3 2764.6 L 761.1 2769.5 L 785.8 2761.5 L 785 2756.5 Z M 762 2775.5 L 762.7 2780.4 L 787.5 2772.8 L 786.8 2767.8 Z M 763.5 2786.4 L 764.2 2791.3 L 789.1 2784.1 L 788.4 2779.1 Z M 764.8 2797.5 L 765.4 2802.5 L 790.4 2795.8 L 789.9 2790.8 Z M 766 2809 L 766.4 2814 L 791.6 2807.7 L 791.1 2802.8 Z M 766.9 2820.2 L 767.3 2825.2 L 792.5 2819.2 L 792.1 2814.2 Z M 767.7 2831.4 L 768 2836.4 L 793.3 2830.7 L 793 2825.7 Z M 768.4 2842.5 L 768.7 2847.5 L 794 2842.1 L 793.7 2837.1 Z M 769 2854 L 769.2 2859 L 794.6 2853.7 L 794.4 2848.7 Z M 769.5 2865 L 769.7 2870 L 795.1 2864.9 L 794.9 2860 Z M 769.9 2876.6 L 770.1 2881.6 L 795.6 2876.6 L 795.4 2871.6 Z M 770.4 2887.7 L 770.5 2892.7 L 796 2887.8 L 795.8 2882.8 Z M 770.8 2898.9 L 771 2903.9 L 796.4 2899 L 796.2 2894 Z M 771.2 2910.4 L 771.3 2915.4 L 796.8 2910.6 L 796.6 2905.6 Z M 771.4 2921.4 L 771.5 2926.4 L 797 2922.1 L 797 2917.1 Z M 771.3 2932.2 L 771.1 2937.2 L 796.9 2934.2 L 797.1 2929.2 Z M 770.6 2943 L 770.2 2948 L 796 2946.4 L 796.5 2941.4 Z M 769.4 2953.7 L 768.8 2958.6 L 794.7 2958 L 795.3 2953.1 Z M 767.8 2964.7 L 767 2969.7 L 792.9 2969.9 L 793.7 2965 Z M 765.9 2975.4 L 764.9 2980.3 L 790.8 2981.3 L 791.8 2976.4 Z M 763.6 2986.1 L 762.4 2990.9 L 788.3 2992.9 L 789.4 2988 Z M 760.9 2996.6 L 759.6 3001.4 L 785.3 3004.4 L 786.6 2999.6 Z M 757.7 3007.1 L 756.2 3011.8 L 781.7 3016 L 783.3 3011.3 Z M 754.1 3017.4 L 752.4 3022.1 L 777.8 3027.1 L 779.5 3022.4 Z M 750.2 3027.8 L 748.4 3032.4 L 773.7 3037.9 L 775.5 3033.3 Z M 746.1 3037.7 L 744.1 3042.3 L 769.2 3048.9 L 771.2 3044.4 Z M 741.6 3047.4 L 739.2 3051.8 L 763.7 3060.2 L 766.1 3055.8 Z M 736.5 3055.9 L 733.8 3060.1 L 757.3 3070.9 L 760.1 3066.8 Z M 730.6 3063.8 L 727.4 3067.5 L 749.3 3081.4 L 752.5 3077.6 Z M 723.7 3070.8 L 720 3074.2 L 740.1 3090.5 L 743.8 3087.1 Z M 715.7 3077.4 L 711.7 3080.4 L 730.2 3098.5 L 734.2 3095.5 Z M 707.3 3083.3 L 703.1 3086 L 720.2 3105.4 L 724.4 3102.7 Z M 698.2 3088.7 L 693.8 3091.1 L 709.6 3111.6 L 714 3109.2 Z M 688.5 3093.6 L 684 3095.8 L 698.6 3117.2 L 703.1 3115.1 Z M 678.8 3097.9 L 674.2 3099.8 L 687.6 3122 L 692.2 3120.1 Z M 668.9 3101.7 L 664.1 3103.3 L 676.2 3126.2 L 681 3124.6 Z M 658.5 3104.9 L 653.7 3106.3 L 664.6 3129.8 L 669.4 3128.5 Z M 648.4 3107.6 L 643.5 3108.7 L 653.2 3132.7 L 658.1 3131.6 Z M 637.5 3109.9 L 632.6 3110.8 L 641.3 3135.2 L 646.2 3134.3 Z M 627 3111.6 L 622 3112.3 L 629.6 3137.1 L 634.5 3136.4 Z M 616.2 3112.9 L 611.2 3113.4 L 617.5 3138.5 L 622.5 3138.1 Z M 605.8 3113.6 L 600.8 3113.8 L 605.7 3139.2 L 610.7 3139 Z M 595 3113.7 L 590 3113.6 L 593.4 3139.2 L 598.4 3139.4 Z M 584.4 3113.1 L 579.5 3112.7 L 581.4 3138.6 L 586.4 3139 Z M 573.5 3112 L 568.6 3111.3 L 569.1 3137.2 L 574 3137.9 Z M 563.2 3110.3 L 558.3 3109.3 L 557.3 3135.2 L 562.2 3136.2 Z M 553 3108 L 548.2 3106.7 L 545.5 3132.5 L 550.3 3133.7 Z M 542.9 3104.9 L 538.2 3103.2 L 533.5 3128.7 L 538.2 3130.4 Z M 533.6 3101.1 L 529.1 3099 L 521.8 3123.9 L 526.3 3126 Z M 524.8 3096.5 L 520.5 3093.9 L 510.7 3117.8 L 514.9 3120.4 Z M 516.3 3090.7 L 512.3 3087.7 L 500.1 3110.6 L 504.1 3113.6 Z M 508.3 3084.2 L 504.5 3080.8 L 490.4 3102.6 L 494.2 3105.9 Z M 500.7 3076.9 L 497.3 3073.3 L 481.6 3094 L 485.1 3097.6 Z M 493.7 3069.2 L 490.4 3065.4 L 473.5 3085 L 476.8 3088.8 Z M 487.4 3061.2 L 484.6 3057.1 L 465.9 3075.1 L 468.7 3079.2 Z M 481.9 3052.5 L 479.4 3048.2 L 459.2 3064.5 L 461.8 3068.9 Z M 476.7 3043 L 474.5 3038.6 L 453.4 3053.6 L 455.6 3058.1 Z M 472.2 3033.4 L 470.1 3028.9 L 448.4 3043 L 450.4 3047.5 Z M 467.8 3023.2 L 465.9 3018.6 L 443.7 3031.9 L 445.6 3036.6 Z M 463.7 3012.8 L 462 3008.2 L 439.4 3021 L 441.2 3025.7 Z M 460.3 3002.9 L 458.8 2998.1 L 435.5 3009.6 L 437 3014.3 Z M 457.4 2992.7 L 456.3 2987.9 L 432.3 2997.8 L 433.5 3002.6 Z M 455.2 2982.4 L 454.3 2977.5 L 429.9 2986 L 430.8 2991 Z M 453.4 2971.4 L 452.7 2966.5 L 427.9 2974.2 L 428.7 2979.1 Z M 451.9 2960.8 L 451.4 2955.8 L 426.4 2962.6 L 426.9 2967.6 Z M 451 2949.8 L 450.6 2944.8 L 425.4 2950.7 L 425.7 2955.6 Z M 450.3 2938.8 L 450 2933.8 L 424.7 2939.1 L 424.9 2944.1 Z M 449.8 2927.3 L 449.6 2922.3 L 424.2 2927.3 L 424.3 2932.3 Z M 449.4 2916.2 L 449.2 2911.2 L 423.8 2916.1 L 423.9 2921.1 Z M 449 2904.7 L 448.8 2899.7 L 423.4 2904.7 L 423.6 2909.7 Z" stroke="#111" stroke-width="2.4" fill="#fff" stroke-linejoin="round"/>
<line x1="272.3" y1="2397.5" x2="520.5" y2="2397.5" stroke="#666" stroke-width="1.5" fill="none"/>
<polygon points="414.5,2397.2 384.4,2402.7 384.4,2391.7" fill="#000"/>
<polygon points="458.5,2397.2 489.7,2391.7 489.7,2402.7" fill="#000"/>
<g><text x="283" y="2386.3" font-size="44" font-family="Liberation Sans, sans-serif" letter-spacing="0" fill="#000">&#216;25</text></g>
<line x1="193.4" y1="2539.5" x2="680" y2="2539.5" stroke="#666" stroke-width="1.5" fill="none"/>
<polygon points="193.4,2539.1 224.7,2533.6 224.7,2544.6" fill="#000"/>
<polygon points="680,2539.1 648,2544.6 648,2533.6" fill="#000"/>
<line x1="194" y1="2539.1" x2="194" y2="2700" stroke="#9a9a9a" stroke-width="1.9"/>
<line x1="680" y1="2539.1" x2="680" y2="2701" stroke="#9a9a9a" stroke-width="1.9"/>
<g><text x="336" y="2528.5" font-size="44" font-family="Liberation Sans, sans-serif" letter-spacing="0" fill="#000">281</text><rect x="386.9" y="2524.1" width="22" height="6" fill="#fff"/><rect x="395.9" y="2522.5" width="4.2" height="6" fill="#000"/></g>
<line x1="306.8" y1="2634.5" x2="565.8" y2="2634.5" stroke="#666" stroke-width="1.5" fill="none"/>
<polygon points="306.8,2634 338,2628.5 338,2639.5" fill="#000"/>
<polygon points="565.8,2634 534.8,2639.5 534.8,2628.5" fill="#000"/>
<line x1="307" y1="2634" x2="307" y2="2684" stroke="#9a9a9a" stroke-width="1.9"/>
<line x1="566" y1="2634" x2="566" y2="2684" stroke="#9a9a9a" stroke-width="1.9"/>
<g><text x="338" y="2622.9" font-size="44" font-family="Liberation Sans, sans-serif" letter-spacing="0" fill="#000">150</text><rect x="340" y="2618.5" width="22" height="6" fill="#fff"/><rect x="349" y="2616.9" width="4.2" height="6" fill="#000"/></g>
<circle cx="306.8" cy="2739" r="51.3" stroke="#111" stroke-width="3" fill="none"/>
<circle cx="566" cy="2739" r="51.3" stroke="#111" stroke-width="3" fill="none"/>
<path d="M 412.6 2660 L 461.2 2660 L 461.2 2682.7 L 462.8 2683 L 462.8 2692.5 C 463 2697 466 2699 469 2700 L 403.8 2700 C 407 2699 410.5 2697 410.5 2692.5 L 410.5 2683 L 412.6 2682.7 Z" stroke="#111" stroke-width="1.7" fill="#fff"/>
<line x1="410.5" y1="2692.5" x2="462.8" y2="2692.5" stroke="#111" stroke-width="1.7" fill="none"/>
<line x1="414.5" y1="2660.5" x2="458.5" y2="2660.5" stroke="#111" stroke-width="3" fill="none"/>
<rect x="267.5" y="2700.5" width="338" height="78" fill="#fff"/>
<path d="M 403.8 2700 L 267.6 2700 L 267.6 2778.5 L 403.8 2778.5 M 469 2778.5 L 605.8 2778.5 L 605.8 2700 L 469 2700" stroke="#111" stroke-width="1.7" fill="none"/>
<path d="M 403.8 2700 Q 436.5 2724 469 2700" stroke="#111" stroke-width="2" fill="#fff"/>
<path d="M 410.5 2697 Q 436.5 2716 462.8 2697" stroke="#111" stroke-width="1.6" fill="none"/>
<rect x="193.5" y="2700.5" width="74" height="78" fill="#000"/>
<rect x="605.5" y="2700.5" width="74" height="78" fill="#000"/>
<rect x="213.5" y="2690.5" width="17" height="10" stroke="#111" stroke-width="1.7" fill="#fff"/>
<rect x="649.5" y="2689.5" width="17" height="12" stroke="#111" stroke-width="1.7" fill="#fff"/>
<path d="M 403.8 2778.5 Q 436.5 2754 469 2778.5" stroke="#111" stroke-width="2" fill="#fff"/>
<path d="M 410 2778.5 Q 436.5 2762 463.8 2778.5" stroke="#111" stroke-width="1.6" fill="none"/>
<path d="M 410 2778.5 L 410 2800.6 L 463.8 2800.6 L 463.8 2778.5" stroke="#111" stroke-width="1.7" fill="none"/>
<rect x="410.5" y="2800.5" width="53" height="46" stroke="#111" stroke-width="1.7" fill="#fff"/>
<circle cx="436.4" cy="2823.6" r="20.3" stroke="#111" stroke-width="1.7" fill="none"/>
<line x1="419.5" y1="2833" x2="419.5" y2="2849" stroke="#111" stroke-width="1.6"/>
<line x1="453.5" y1="2833" x2="453.5" y2="2849" stroke="#111" stroke-width="1.6"/>
<rect x="416.5" y="2851.5" width="41" height="23" stroke="#111" stroke-width="1.7" fill="#fff"/>
<ellipse cx="423" cy="2863" rx="5" ry="9" stroke="#111" stroke-width="1.6" fill="none"/>
<ellipse cx="436.5" cy="2863" rx="8" ry="10" stroke="#111" stroke-width="1.6" fill="none"/>
<ellipse cx="450" cy="2863" rx="5" ry="9" stroke="#111" stroke-width="1.6" fill="none"/>
<rect x="423.5" y="2874.5" width="26" height="26" stroke="#111" stroke-width="1.7" fill="#fff"/>
<line x1="1420" y1="335.5" x2="2110.5" y2="335.5" stroke="#666" stroke-width="1.5" fill="none"/>
<polygon points="1420,335 1451.2,329.5 1451.2,340.5" fill="#000"/>
<polygon points="2110.5,335 2079.8,340.5 2079.8,329.5" fill="#000"/>
<line x1="1420" y1="335" x2="1420" y2="399.7" stroke="#9a9a9a" stroke-width="1.9"/>
<line x1="2110" y1="335" x2="2110" y2="393.8" stroke="#9a9a9a" stroke-width="1.9"/>
<g><text x="1727" y="324" font-size="44" font-family="Liberation Sans, sans-serif" letter-spacing="0" fill="#000">400</text></g>
<line x1="1115" y1="410.5" x2="1506" y2="410.5" stroke="#666" stroke-width="1.5" fill="none"/>
<path d="M 1401.3 1251 L 1401.3 515.8 A 105 105 0 0 1 1506 410.8 L 2145 410.8 L 2145 449.3 L 1506 449.3 A 67 67 0 0 0 1439 516.3 L 1439 1251" stroke="#111" stroke-width="1.7" fill="none"/>
<line x1="1506.5" y1="410.8" x2="1506.5" y2="449.3" stroke="#111" stroke-width="1.7" fill="none"/>
<line x1="1401.3" y1="515.5" x2="1439" y2="515.5" stroke="#111" stroke-width="1.7" fill="none"/>
<rect x="2083.5" y="492.5" width="54" height="37" stroke="#111" stroke-width="1.7" fill="#fff"/>
<rect x="1851.5" y="538.5" width="519" height="4" stroke="#111" stroke-width="2.6" fill="#fff"/>
<path d="M 1869.5 538 Q 1882.5 530.5 1897.5 530.5 L 2323.5 530.5 Q 2338.5 530.5 2351.5 538" stroke="#111" stroke-width="2.6" fill="none"/>
<path d="M 1884 542 L 1885.4 551 L 1892.6 551 L 1894 542" stroke="#111" stroke-width="1.8" fill="none"/>
<path d="M 1892.3 542 L 1893.7 551 L 1900.9 551 L 1902.3 542" stroke="#111" stroke-width="1.8" fill="none"/>
<path d="M 1914.5 542 L 1915.9 551 L 1923.1 551 L 1924.5 542" stroke="#111" stroke-width="1.8" fill="none"/>
<path d="M 1923.7 542 L 1925.1 551 L 1932.3 551 L 1933.7 542" stroke="#111" stroke-width="1.8" fill="none"/>
<path d="M 1943.1 542 L 1944.5 551 L 1951.7 551 L 1953.1 542" stroke="#111" stroke-width="1.8" fill="none"/>
<path d="M 1951.5 542 L 1952.9 551 L 1960.1 551 L 1961.5 542" stroke="#111" stroke-width="1.8" fill="none"/>
<path d="M 1957 542 L 1958.4 551 L 1965.6 551 L 1967 542" stroke="#111" stroke-width="1.8" fill="none"/>
<path d="M 1971.8 542 L 1973.2 551 L 1980.4 551 L 1981.8 542" stroke="#111" stroke-width="1.8" fill="none"/>
<path d="M 1986.5 542 L 1987.9 551 L 1995.1 551 L 1996.5 542" stroke="#111" stroke-width="1.8" fill="none"/>
<path d="M 1995.8 542 L 1997.2 551 L 2004.4 551 L 2005.8 542" stroke="#111" stroke-width="1.8" fill="none"/>
<path d="M 2001.5 542 L 2002.9 551 L 2010.1 551 L 2011.5 542" stroke="#111" stroke-width="1.8" fill="none"/>
<path d="M 2011.5 542 L 2012.9 551 L 2020.1 551 L 2021.5 542" stroke="#111" stroke-width="1.8" fill="none"/>
<path d="M 2019.8 542 L 2021.2 551 L 2028.4 551 L 2029.8 542" stroke="#111" stroke-width="1.8" fill="none"/>
<path d="M 2028.1 542 L 2029.5 551 L 2036.7 551 L 2038.1 542" stroke="#111" stroke-width="1.8" fill="none"/>
<path d="M 2045.7 542 L 2047.1 551 L 2054.3 551 L 2055.7 542" stroke="#111" stroke-width="1.8" fill="none"/>
<path d="M 2055.9 542 L 2057.3 551 L 2064.5 551 L 2065.9 542" stroke="#111" stroke-width="1.8" fill="none"/>
<path d="M 2065.1 542 L 2066.5 551 L 2073.7 551 L 2075.1 542" stroke="#111" stroke-width="1.8" fill="none"/>
<path d="M 2074.3 542 L 2075.7 551 L 2082.9 551 L 2084.3 542" stroke="#111" stroke-width="1.8" fill="none"/>
<path d="M 2082.5 542 L 2083.9 551 L 2091.1 551 L 2092.5 542" stroke="#111" stroke-width="1.8" fill="none"/>
<path d="M 2093.7 542 L 2095.1 551 L 2102.3 551 L 2103.7 542" stroke="#111" stroke-width="1.8" fill="none"/>
<path d="M 2104.8 542 L 2106.2 551 L 2113.4 551 L 2114.8 542" stroke="#111" stroke-width="1.8" fill="none"/>
<path d="M 2116.9 542 L 2118.3 551 L 2125.5 551 L 2126.9 542" stroke="#111" stroke-width="1.8" fill="none"/>
<path d="M 2126.1 542 L 2127.5 551 L 2134.7 551 L 2136.1 542" stroke="#111" stroke-width="1.8" fill="none"/>
<path d="M 2135.5 542 L 2136.9 551 L 2144.1 551 L 2145.5 542" stroke="#111" stroke-width="1.8" fill="none"/>
<path d="M 2144.9 542 L 2146.3 551 L 2153.5 551 L 2154.9 542" stroke="#111" stroke-width="1.8" fill="none"/>
<path d="M 2153.2 542 L 2154.6 551 L 2161.8 551 L 2163.2 542" stroke="#111" stroke-width="1.8" fill="none"/>
<path d="M 2162.5 542 L 2163.9 551 L 2171.1 551 L 2172.5 542" stroke="#111" stroke-width="1.8" fill="none"/>
<path d="M 2167.1 542 L 2168.5 551 L 2175.7 551 L 2177.1 542" stroke="#111" stroke-width="1.8" fill="none"/>
<path d="M 2181.8 542 L 2183.2 551 L 2190.4 551 L 2191.8 542" stroke="#111" stroke-width="1.8" fill="none"/>
<path d="M 2191.1 542 L 2192.5 551 L 2199.7 551 L 2201.1 542" stroke="#111" stroke-width="1.8" fill="none"/>
<path d="M 2199.5 542 L 2200.9 551 L 2208.1 551 L 2209.5 542" stroke="#111" stroke-width="1.8" fill="none"/>
<path d="M 2209.5 542 L 2210.9 551 L 2218.1 551 L 2219.5 542" stroke="#111" stroke-width="1.8" fill="none"/>
<path d="M 2215.1 542 L 2216.5 551 L 2223.7 551 L 2225.1 542" stroke="#111" stroke-width="1.8" fill="none"/>
<path d="M 2223.5 542 L 2224.9 551 L 2232.1 551 L 2233.5 542" stroke="#111" stroke-width="1.8" fill="none"/>
<path d="M 2229 542 L 2230.4 551 L 2237.6 551 L 2239 542" stroke="#111" stroke-width="1.8" fill="none"/>
<path d="M 2238.2 542 L 2239.6 551 L 2246.8 551 L 2248.2 542" stroke="#111" stroke-width="1.8" fill="none"/>
<path d="M 2253.9 542 L 2255.3 551 L 2262.5 551 L 2263.9 542" stroke="#111" stroke-width="1.8" fill="none"/>
<path d="M 2261.3 542 L 2262.7 551 L 2269.9 551 L 2271.3 542" stroke="#111" stroke-width="1.8" fill="none"/>
<path d="M 2266.9 542 L 2268.3 551 L 2275.5 551 L 2276.9 542" stroke="#111" stroke-width="1.8" fill="none"/>
<path d="M 2286.3 542 L 2287.7 551 L 2294.9 551 L 2296.3 542" stroke="#111" stroke-width="1.8" fill="none"/>
<path d="M 2295.5 542 L 2296.9 551 L 2304.1 551 L 2305.5 542" stroke="#111" stroke-width="1.8" fill="none"/>
<path d="M 2317.7 542 L 2319.1 551 L 2326.3 551 L 2327.7 542" stroke="#111" stroke-width="1.8" fill="none"/>
<path d="M 2326 542 L 2327.4 551 L 2334.6 551 L 2336 542" stroke="#111" stroke-width="1.8" fill="none"/>
<path d="M 2096 480.7 L 2096 487 L 2090 492.9 M 2125 480.7 L 2125 487 L 2131 492.9 M 2096 487 L 2125 487" stroke="#111" stroke-width="1.6" fill="none"/>
<rect x="2089.5" y="454.5" width="42" height="26" stroke="#111" stroke-width="1.7" fill="#fff"/>
<rect x="2103.5" y="454.5" width="14" height="14" stroke="#111" stroke-width="1.6" fill="none"/>
<path d="M 2092 450.4 L 2104 439.5 Q 2110.5 435.5 2117 439.5 L 2129 450.4 L 2129 454.8 L 2092 454.8 Z" stroke="#111" stroke-width="1.7" fill="#fff"/>
<line x1="2089.5" y1="454.5" x2="2131.6" y2="454.5" stroke="#111" stroke-width="1.7" fill="none"/>
<line x1="1852" y1="541" x2="1852" y2="642" stroke="#9a9a9a" stroke-width="1.9"/>
<line x1="2369" y1="541" x2="2369" y2="642" stroke="#9a9a9a" stroke-width="1.9"/>
<line x1="1851.8" y1="640.5" x2="2369.2" y2="640.5" stroke="#666" stroke-width="1.5" fill="none"/>
<polygon points="1851.8,640.8 1885.5,635.3 1885.5,646.3" fill="#000"/>
<polygon points="2369.2,640.8 2335.8,646.3 2335.8,635.3" fill="#000"/>
<g><text x="2047" y="638.3" font-size="44" font-family="Liberation Sans, sans-serif" letter-spacing="3.6" fill="#000">&#216;300</text></g>
<line x1="1116" y1="410.8" x2="1116" y2="2738.8" stroke="#9a9a9a" stroke-width="1.9"/>
<polygon points="1116,410.8 1121.5,442 1110.5,442" fill="#000"/>
<polygon points="1116,1275 1110.5,1243.4 1121.5,1243.4" fill="#000"/>
<polygon points="1116,1275 1121.5,1306 1110.5,1306" fill="#000"/>
<polygon points="1116,2738.8 1110.5,2708.2 1121.5,2708.2" fill="#000"/>
<line x1="1116" y1="1275.5" x2="1218.3" y2="1275.5" stroke="#666" stroke-width="1.5" fill="none"/>
<line x1="1116" y1="2738.5" x2="1155.9" y2="2738.5" stroke="#666" stroke-width="1.5" fill="none"/>
<g transform="rotate(-90 1105 911)"><text x="1105" y="911" font-size="44" font-family="Liberation Sans, sans-serif" letter-spacing="0" fill="#000">80-680</text></g>
<g transform="rotate(-90 1105 2044)"><text x="1105" y="2044" font-size="44" font-family="Liberation Sans, sans-serif" letter-spacing="0" fill="#000">848</text></g>
<rect x="1348.5" y="1222.5" width="25" height="104" stroke="#111" stroke-width="1.7" fill="#fff"/>
<line x1="1373.5" y1="1222.7" x2="1373.5" y2="1326.7" stroke="#111" stroke-width="3.2"/>
<rect x="1373.5" y="1250.5" width="13" height="49" stroke="#111" stroke-width="1.7" fill="#fff"/>
<path d="M 1386.8 1259.5 L 1395.5 1259.5 Q 1405 1275 1395.5 1290.8 L 1386.8 1290.8" stroke="#111" stroke-width="1.7" fill="#fff"/>
<line x1="1304.5" y1="1222.5" x2="1346" y2="1222.5" stroke="#666" stroke-width="1.5" fill="none"/>
<line x1="1304.5" y1="1326.5" x2="1346" y2="1326.5" stroke="#666" stroke-width="1.5" fill="none"/>
<line x1="1306" y1="1222.7" x2="1306" y2="1326.7" stroke="#9a9a9a" stroke-width="1.9"/>
<polygon points="1306.3,1222.7 1311.8,1254.3 1300.8,1254.3" fill="#000"/>
<polygon points="1306.3,1326.7 1300.8,1295.7 1311.8,1295.7" fill="#000"/>
<g transform="rotate(-90 1296 1316)"><text x="1296" y="1316" font-size="44" font-family="Liberation Sans, sans-serif" letter-spacing="0" fill="#000">&#216;60</text></g>
<rect x="1395.5" y="1250.5" width="49" height="130" stroke="#111" stroke-width="1.7" fill="#fff"/>
<rect x="1393.5" y="1261.5" width="5" height="28" fill="#fff"/>
<path d="M 1386.8 1259.5 L 1395.5 1259.5 Q 1405 1275 1395.5 1290.8 L 1386.8 1290.8" stroke="#111" stroke-width="1.7" fill="none"/>
<path d="M 1476.3 1265.8 L 1508 1276 L 1442.3 1462 M 1476.3 1265.8 L 1444 1352" stroke="#111" stroke-width="1.7" fill="none"/>
<path d="M 1505 1279 L 1441 1460 M 1472 1268 L 1443 1346 M 1474 1267 L 1444 1349" stroke="#111" stroke-width="1.4" fill="none"/>
<path d="M 1446.8 1458.6 C 1450 1463 1455.3 1466 1455.3 1475 L 1455.3 1490.3 L 1441.7 1490.3 M 1441.7 1486.5 L 1455.3 1486.5" stroke="#111" stroke-width="1.7" fill="none"/>
<line x1="1398.5" y1="1380.4" x2="1398.5" y2="2660" stroke="#111" stroke-width="1.7" fill="none"/>
<line x1="1441.5" y1="1380.4" x2="1441.5" y2="2660" stroke="#111" stroke-width="1.7" fill="none"/>
<path d="M 1398.3 1540 L 1395.7 1705.8 L 1398.3 1707 M 1441.7 1600 L 1444.5 1705.8 L 1441.7 1707" stroke="#111" stroke-width="1.8" fill="none"/>
<rect x="1406.5" y="1706.5" width="26" height="16" stroke="#111" stroke-width="1.7" fill="#fff"/>
<circle cx="1420" cy="1754.5" r="33.5" stroke="#111" stroke-width="3" fill="#fff"/>
<line x1="1166.5" y1="2687.5" x2="1299.6" y2="2687.5" stroke="#666" stroke-width="1.5" fill="none"/>
<line x1="1166.5" y1="2791.5" x2="1299.6" y2="2791.5" stroke="#666" stroke-width="1.5" fill="none"/>
<line x1="1169" y1="2687.7" x2="1169" y2="2915.5" stroke="#9a9a9a" stroke-width="1.9"/>
<polygon points="1168.8,2687.7 1174.3,2718.5 1163.3,2718.5" fill="#000"/>
<polygon points="1168.8,2791.3 1163.3,2759.9 1174.3,2759.9" fill="#000"/>
<g transform="rotate(-90 1159 2906)"><text x="1159" y="2906" font-size="44" font-family="Liberation Sans, sans-serif" letter-spacing="0" fill="#000">&#216;60</text></g>
<line x1="1235" y1="2675.9" x2="1235" y2="2920" stroke="#9a9a9a" stroke-width="1.9"/>
<line x1="1233" y1="2738.5" x2="1256.7" y2="2738.5" stroke="#666" stroke-width="1.5" fill="none"/>
<line x1="1233" y1="2774.5" x2="1255.3" y2="2774.5" stroke="#666" stroke-width="1.5" fill="none"/>
<polygon points="1234.9,2738 1229.4,2707.7 1240.4,2707.7" fill="#000"/>
<polygon points="1234.9,2774.3 1240.4,2805.3 1229.4,2805.3" fill="#000"/>
<g transform="rotate(-90 1225 2922)"><text x="1225" y="2922" font-size="44" font-family="Liberation Sans, sans-serif" letter-spacing="0" fill="#000">G1/2</text><rect x="1261.2" y="2917.6" width="22" height="6" fill="#fff"/><rect x="1270.2" y="2916" width="4.2" height="6" fill="#000"/></g>
<rect x="1256.5" y="2738.5" width="31" height="36" fill="#111"/>
<path d="M 1287.5 2747 L 1302.9 2731 M 1287.5 2755 L 1302.9 2739 M 1287.5 2763 L 1302.9 2755 M 1287.5 2772 L 1302.9 2763" stroke="#111" stroke-width="1.6" fill="none"/>
<rect x="1302.5" y="2687.5" width="32" height="104" stroke="#111" stroke-width="1.7" fill="#fff"/>
<line x1="1303" y1="2795" x2="1303" y2="3032" stroke="#9a9a9a" stroke-width="1.9"/>
<rect x="1334.5" y="2713.5" width="27" height="52" stroke="#111" stroke-width="1.7" fill="#fff"/>
<line x1="1334.8" y1="2739.5" x2="1361.9" y2="2739.5" stroke="#111" stroke-width="1.7" fill="none"/>
<path d="M 1337 2714 Q 1333 2726 1337 2739 M 1359.5 2714 Q 1363.5 2726 1359.5 2739 M 1337 2739 Q 1333 2752 1337 2765 M 1359.5 2739 Q 1363.5 2752 1359.5 2765" stroke="#111" stroke-width="1.4" fill="none"/>
<rect x="1363.5" y="2714.5" width="27" height="49" stroke="#111" stroke-width="1.7" fill="#fff"/>
<rect x="1393.5" y="2661.5" width="53" height="31" stroke="#111" stroke-width="1.7" fill="#fff"/>
<rect x="1410.5" y="2661.5" width="19" height="21" stroke="#111" stroke-width="1.6" fill="none"/>
<line x1="1398.2" y1="2659.5" x2="1441.7" y2="2659.5" stroke="#111" stroke-width="3"/>
<rect x="1393.5" y="2692.5" width="53" height="108" stroke="#111" stroke-width="1.7" fill="#fff"/>
<circle cx="1416.5" cy="2741.5" r="43" stroke="#111" stroke-width="1.4" fill="#fff"/>
<rect x="1411.5" y="2691.5" width="16" height="9" stroke="#111" stroke-width="1.7" fill="#fff"/>
<circle cx="1419.8" cy="2738.6" r="38.6" stroke="#111" stroke-width="3.2" fill="#fff"/>
<path d="M 1446.3 2802.8 L 1653.8 2802.8 L 1653.8 2844.3 L 1446.3 2844.3" stroke="#111" stroke-width="1.7" fill="#fff"/>
<rect x="1393.5" y="2800.5" width="53" height="45" fill="#fff"/>
<path d="M 1446.3 2800.8 L 1393.7 2800.8 L 1393.7 2845.2 L 1446.3 2845.2" stroke="#111" stroke-width="1.7" fill="none"/>
<line x1="1393.7" y1="2800.5" x2="1446.3" y2="2800.5" stroke="#111" stroke-width="3"/>
<path d="M 1446.3 2803.3 Q 1430 2822 1446.3 2845.2" stroke="#111" stroke-width="1.7" fill="none"/>
<circle cx="1419.8" cy="2840.2" r="3.8" stroke="#111" stroke-width="2.6" fill="none"/>
<path d="M 1613.4 2844.3 Q 1618 2836 1628.8 2834.2 Q 1638 2836 1648.5 2844.3 L 1648.5 2852.1 L 1614.6 2854.9 Z" stroke="#111" stroke-width="1.7" fill="#fff"/>
<rect x="1624.5" y="2846.5" width="14" height="7" stroke="#111" stroke-width="1.6" fill="none"/>
<line x1="1632" y1="2857.6" x2="1632" y2="2953" stroke="#9a9a9a" stroke-width="1.9"/>
<line x1="1654" y1="2847" x2="1654" y2="3031" stroke="#9a9a9a" stroke-width="1.9"/>
<rect x="1400.5" y="2845.5" width="39" height="6" stroke="#111" stroke-width="1.7" fill="#fff"/>
<rect x="1400.5" y="2853.5" width="39" height="21" stroke="#111" stroke-width="1.7" fill="#fff"/>
<ellipse cx="1410.5" cy="2864" rx="6.5" ry="9" stroke="#111" stroke-width="1.6" fill="none"/>
<ellipse cx="1429.5" cy="2864" rx="6.5" ry="9" stroke="#111" stroke-width="1.6" fill="none"/>
<rect x="1407.5" y="2875.5" width="25" height="25" stroke="#111" stroke-width="1.7" fill="#fff"/>
<line x1="1302.7" y1="2951.5" x2="1631.2" y2="2951.5" stroke="#666" stroke-width="1.5" fill="none"/>
<polygon points="1302.7,2951.8 1333.7,2946.3 1333.7,2957.3" fill="#000"/>
<polygon points="1631.2,2951.8 1600.4,2957.3 1600.4,2946.3" fill="#000"/>
<g><text x="1462" y="2939.4" font-size="44" font-family="Liberation Sans, sans-serif" letter-spacing="0" fill="#000">190</text><rect x="1464" y="2935" width="22" height="6" fill="#fff"/><rect x="1473" y="2933.4" width="4.2" height="6" fill="#000"/></g>
<line x1="1302.7" y1="3029.5" x2="1654.1" y2="3029.5" stroke="#666" stroke-width="1.5" fill="none"/>
<polygon points="1302.7,3029.4 1333.7,3023.9 1333.7,3034.9" fill="#000"/>
<polygon points="1654.1,3029.4 1622.6,3034.9 1622.6,3023.9" fill="#000"/>
<g><text x="1462" y="3018.3" font-size="44" font-family="Liberation Sans, sans-serif" letter-spacing="0" fill="#000">203</text></g>
<path d="M 1420 2900 L 1420 3120" stroke="#111" stroke-width="25" fill="none"/>
<path d="M 1420 2902 L 1420 3122" stroke="#fff" stroke-width="20.6" fill="none"/>
<path d="M 1408 2906.5 Q 1420 2904 1432 2899.5 M 1408 2909.9 Q 1420 2907.4 1432 2902.9 M 1408 2918.8 Q 1420 2916.6 1432 2912.3 M 1408 2922.2 Q 1420 2920 1432 2915.7 M 1408 2930.7 Q 1420 2928.8 1432 2924.6 M 1408 2934.1 Q 1420 2932.2 1432 2928 M 1408 2942.3 Q 1420 2940.8 1432 2936.5 M 1408 2945.7 Q 1420 2944.2 1432 2939.9 M 1408 2953.5 Q 1420 2952.4 1432 2948.1 M 1408 2956.9 Q 1420 2955.8 1432 2951.5 M 1408 2964.4 Q 1420 2963.7 1432 2959.4 M 1408 2967.8 Q 1420 2967.1 1432 2962.8 M 1408 2975 Q 1420 2974.8 1432 2970.3 M 1408 2978.4 Q 1420 2978.2 1432 2973.7 M 1408 2985.3 Q 1420 2985.6 1432 2980.9 M 1408 2988.7 Q 1420 2989 1432 2984.3 M 1408 2995.2 Q 1420 2996.1 1432 2991.1 M 1408 2998.6 Q 1420 2999.5 1432 2994.5 M 1408 3004.9 Q 1420 3006.3 1432 3001.1 M 1408 3008.3 Q 1420 3009.7 1432 3004.5 M 1408 3014.2 Q 1420 3016.2 1432 3010.7 M 1408 3017.6 Q 1420 3019.6 1432 3014.1 M 1408 3023.3 Q 1420 3025.9 1432 3020.1 M 1408 3026.7 Q 1420 3029.3 1432 3023.5 M 1408 3032.1 Q 1420 3035.4 1432 3029.2 M 1408 3035.5 Q 1420 3038.8 1432 3032.6 M 1408 3040.7 Q 1420 3044.6 1432 3038 M 1408 3044.1 Q 1420 3048 1432 3041.4 M 1408 3049 Q 1420 3053.5 1432 3046.6 M 1408 3052.4 Q 1420 3056.9 1432 3050 M 1408 3057 Q 1420 3062.2 1432 3054.9 M 1408 3060.3 Q 1420 3065.5 1432 3058.2 M 1408 3064.8 Q 1420 3070.7 1432 3062.9 M 1408 3068 Q 1420 3073.9 1432 3066.1 M 1408 3072.4 Q 1420 3078.9 1432 3070.7 M 1408 3075.5 Q 1420 3082.1 1432 3073.8 M 1408 3079.7 Q 1420 3087 1432 3078.3 M 1408 3082.7 Q 1420 3090 1432 3081.3 M 1408 3086.8 Q 1420 3094.8 1432 3085.6 M 1408 3089.8 Q 1420 3097.7 1432 3088.6 M 1408 3093.7 Q 1420 3102.4 1432 3092.7 M 1408 3096.6 Q 1420 3105.2 1432 3095.6 M 1408 3100.4 Q 1420 3109.7 1432 3099.7 M 1408 3103.2 Q 1420 3112.5 1432 3102.4 M 1408 3106.9 Q 1420 3116.9 1432 3106.4 M 1408 3109.7 Q 1420 3119.6 1432 3109.1 M 1408 3113.3 Q 1420 3124 1432 3113 M 1408 3116.1 Q 1420 3126.7 1432 3115.7 M 1408 3119.7 Q 1420 3131.1 1432 3119.6 M 1408 3122.5 Q 1420 3133.9 1432 3122.3" stroke="#111" stroke-width="2.6" fill="none"/>
<path d="M 1420 3122 L 1420 3125" stroke="#111" stroke-width="25.5" fill="none" stroke-linecap="round"/>
<path d="M 1408 3118 Q 1420 3132 1432 3118 L 1432 3124 Q 1420 3140 1408 3124 Z" fill="#111"/>
</svg></body></html>
